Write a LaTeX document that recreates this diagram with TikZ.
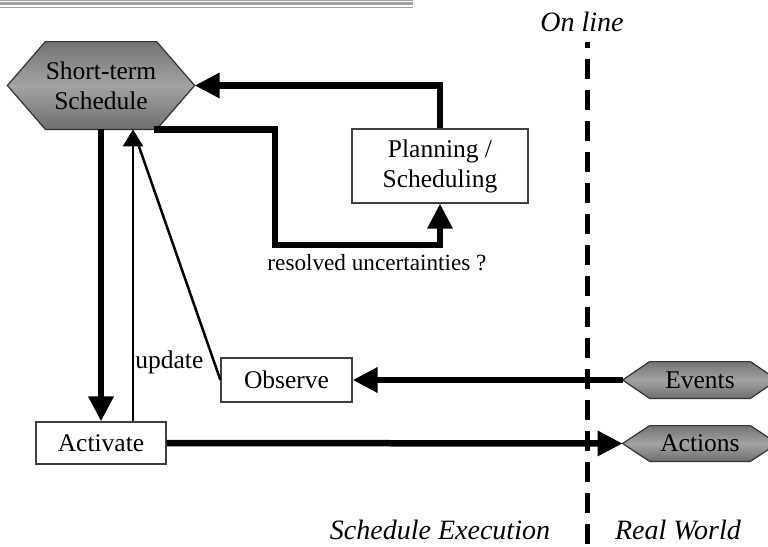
\documentclass[tikz,border=0pt]{standalone}
\usepackage{fontspec}
\setmainfont{Liberation Serif}
\newfontfamily\diagfont{Liberation Serif}
\usetikzlibrary{arrows.meta,backgrounds,calc}

\tikzset{
  txt/.style={font=\diagfont\fontsize{12.75}{15}\selectfont, align=center, inner sep=0pt},
  itxt/.style={font=\diagfont\fontsize{14}{16}\selectfont\itshape, inner sep=0pt},
  boxnode/.style={txt, draw=black!75, line width=0.6pt, fill=white},
  hexbody/.style={txt},
  hexfill/.style={draw=black!80, line width=0.6pt,
    top color=black!55, bottom color=black!57, middle color=black!36},
  bigflow/.style={line width=3.25pt, line join=miter,
    -{Triangle[length=12.5pt,width=12pt]}},
  smallflow/.style={line width=1.25pt, -{Triangle[length=8.5pt,width=10pt]}},
  smallline/.style={line width=1.25pt},
  onlinedash/.style={line width=2.5pt, dash pattern=on 10pt off 5.5pt, dash phase=7pt},
  rule/.style={draw=black!37}
}

% hexagonal outline around a node body: #1 node name, #2 pointer depth
\newcommand\hexoutline[2]{%
  \path[hexfill] (#1.north west) -- (#1.north east) -- ([xshift=#2]#1.east)
    -- (#1.south east) -- (#1.south west) -- ([xshift=-#2]#1.west) -- cycle;}

\begin{document}
\begin{tikzpicture}[x=0.5pt,y=-0.5pt]
\useasboundingbox (0,0) rectangle (768,547);
\clip (0,0) rectangle (768,547);

% header rules
\draw[rule, line width=0.5pt] (0,0.5) -- (413,0.5);
\draw[rule, line width=1.5pt] (0,3.8) -- (413,3.8);
\draw[rule, line width=0.75pt] (0,7.3) -- (413,7.3);

% nodes
\node[hexbody, minimum width=52pt, minimum height=43.5pt] (sts) at (101,85.5)
  {Short-term\\Schedule};
\node[boxnode, minimum width=88pt, minimum height=37pt] (plan) at (440,166)
  {Planning /\\Scheduling};
\node[boxnode, minimum width=65pt, minimum height=21pt] (act) at (101,443) {Activate};
\node[boxnode, minimum width=65.5pt, minimum height=22pt] (obs) at (286.5,380) {Observe};
\node[hexbody, minimum width=50pt, minimum height=18pt] (ev) at (700,380) {Events};
\node[hexbody, minimum width=50pt, minimum height=17.5pt] (ac) at (700,443.5) {Actions};

\begin{scope}[on background layer]
  \hexoutline{sts}{19pt}
  \hexoutline{ev}{13.5pt}
  \hexoutline{ac}{13.5pt}
\end{scope}

% anchor points on the hexagons and the flow bends
\coordinate (stsE) at ([xshift=19pt]sts.east);
\coordinate (evW) at ([xshift=-13.5pt]ev.west);
\coordinate (acW) at ([xshift=-13.5pt]ac.west);
\coordinate (resStart) at ([xshift=-1.5pt]sts.south east);
\coordinate (resBend) at (275,245);
\coordinate (upBase) at ([xshift=16pt]act.north);
\coordinate (upTip) at (upBase |- sts.south);
\coordinate (dTop) at (587,42);
\coordinate (dBot) at (587,547);

% flows
\draw[bigflow] (plan.north) |- (stsE);
\draw[bigflow] (resStart) -| (resBend) -| (plan.south);
\node[txt, font=\diagfont\fontsize{11.6}{14}\selectfont] (resLbl) at (377,263) {resolved uncertainties ?};
\draw[bigflow] (sts.south) -- (act.north);
\draw[smallflow] (upBase) -- (upTip);
\draw[smallline, shorten >=4pt] (obs.west) -- (upTip);
\node[txt, anchor=west] (updLbl) at (135,362) {update};
\draw[bigflow] (evW) -- (obs.east);
\draw[bigflow] (act.east) -- (acW);

% on-line boundary
\draw[onlinedash] (dTop) -- (dBot);
\node[itxt] (onl) at (582,22) {On line};
\node[itxt] (sexe) at (440,530) {Schedule Execution};
\node[itxt] (rw) at (678,530) {Real World};
\end{tikzpicture}
\end{document}
